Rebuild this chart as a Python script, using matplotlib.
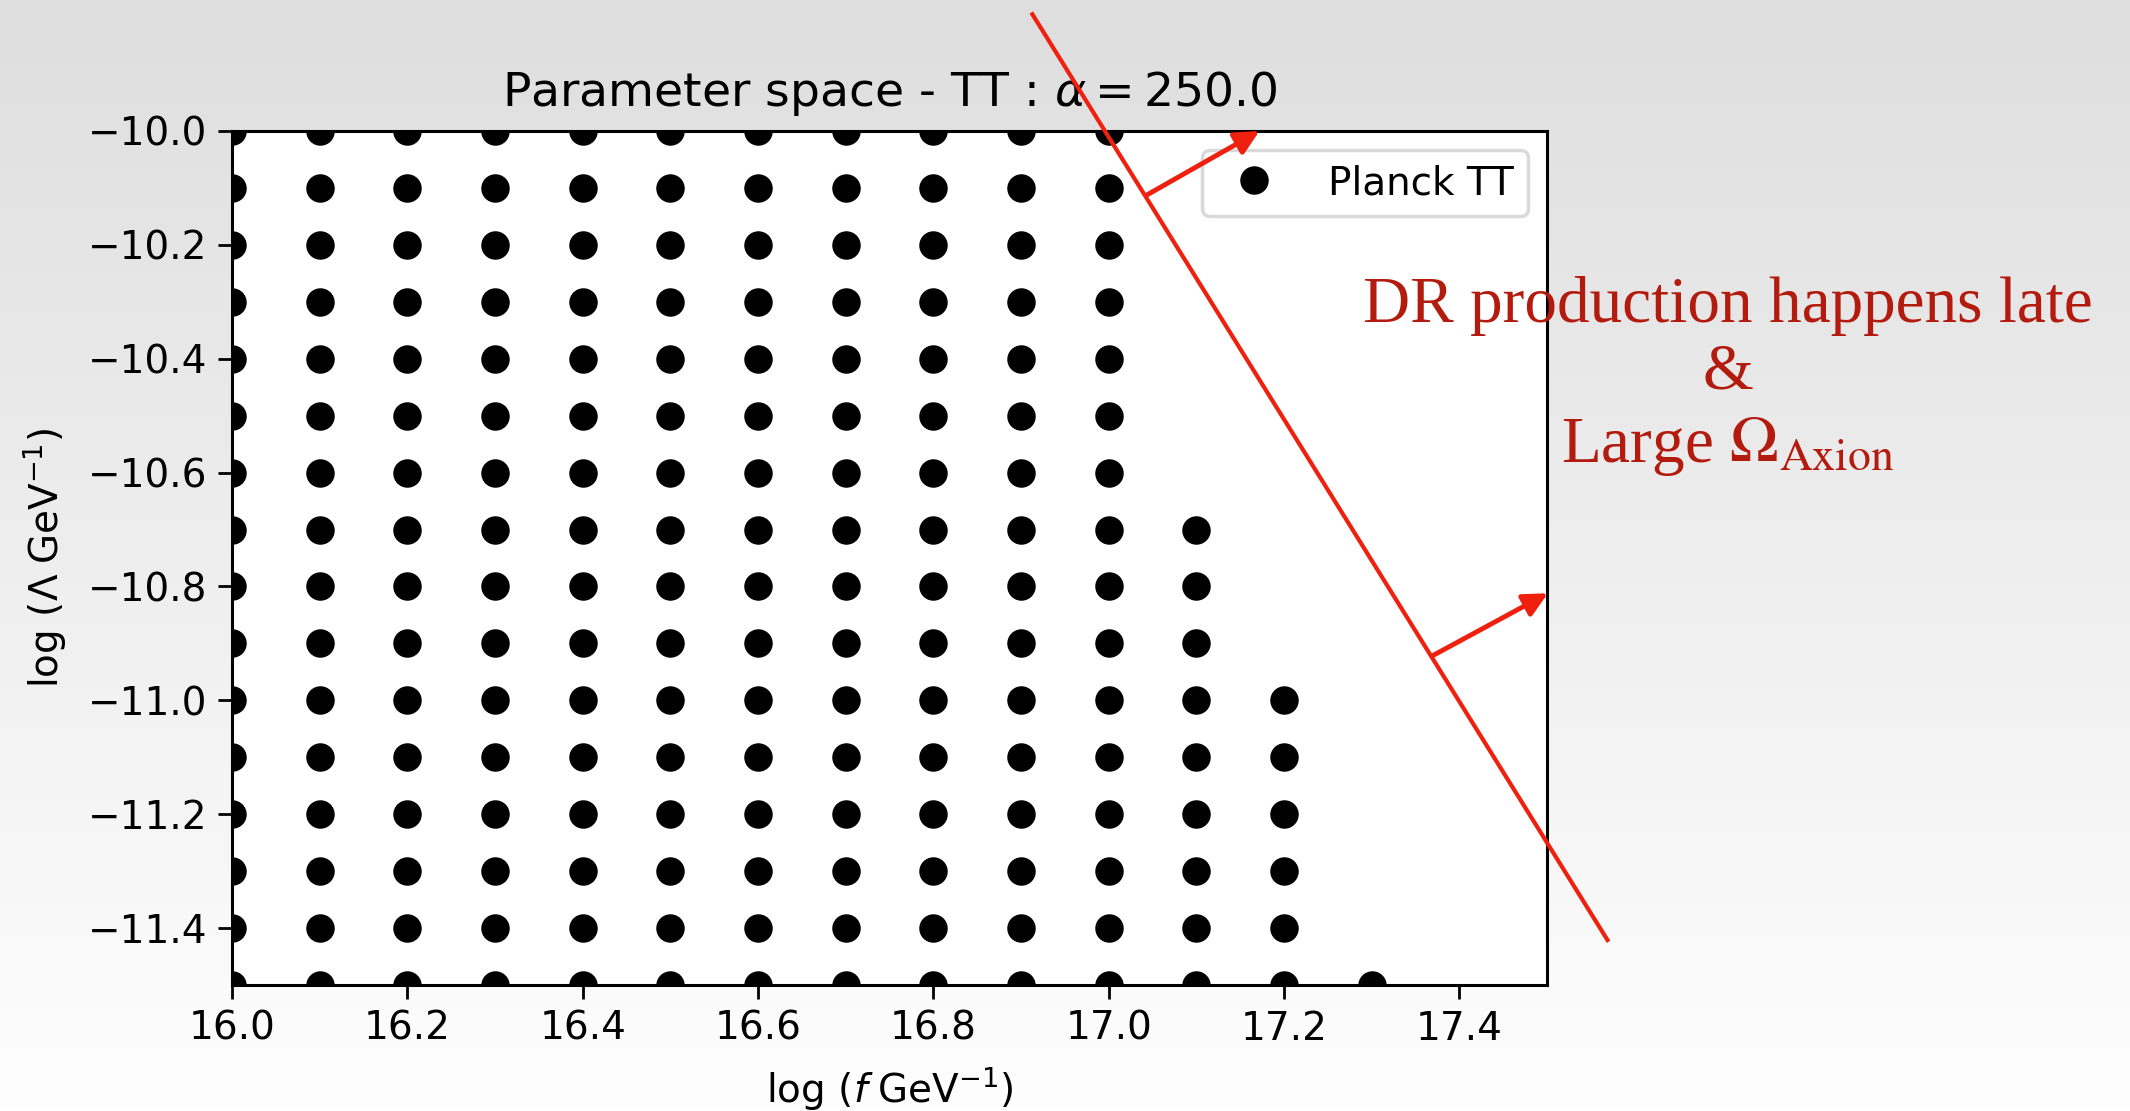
import numpy as np
import matplotlib
matplotlib.use("Agg")
import matplotlib.pyplot as plt
from matplotlib.colors import LinearSegmentedColormap

# Grid of (log f, log Lambda) points accepted by the Planck TT likelihood
f_columns = [16.0, 16.1, 16.2, 16.3, 16.4, 16.5, 16.6, 16.7, 16.8, 16.9, 17.0, 17.1, 17.2, 17.3]
# highest log Lambda reached in each column (all points down to -11.5 are present)
column_top = [-10.0, -10.0, -10.0, -10.0, -10.0, -10.0, -10.0, -10.0, -10.0, -10.0, -10.0, -10.7, -11.0, -11.5]
lambda_bottom = -11.5

xticks = [16.0, 16.2, 16.4, 16.6, 16.8, 17.0, 17.2, 17.4]
yticks = [-10.0, -10.2, -10.4, -10.6, -10.8, -11.0, -11.2, -11.4]

alpha_value = 250.0

xs, ys = [], []
for f, top in zip(f_columns, column_top):
    n = int(round((top - lambda_bottom) / 0.1)) + 1
    for k in range(n):
        xs.append(f)
        ys.append(round(top - 0.1 * k, 1))

fig = plt.figure(figsize=(21.3, 11.11), dpi=100)

# slide-style vertical gradient behind everything
bg = fig.add_axes([0, 0, 1, 1], zorder=-10)
grad = np.linspace(0, 1, 256).reshape(-1, 1)
cmap = LinearSegmentedColormap.from_list("bg", ["#dedede", "#fefefe"])
bg.imshow(grad, aspect="auto", cmap=cmap, extent=[0, 1, 0, 1], origin="upper")
bg.set_axis_off()

ax = fig.add_axes([232 / 2130, 1 - 985 / 1111, (1547 - 232) / 2130, (985 - 131) / 1111])
ax.set_facecolor("white")
ax.plot(xs, ys, "o", color="black", markersize=19.5, linestyle="none", label="Planck TT")
ax.set_xlim(16.0, 17.5)
ax.set_ylim(-11.5, -10.0)
ax.set_xticks(xticks)
ax.set_yticks(yticks)
ax.set_xticklabels([f"{t:.1f}" for t in xticks])
ax.set_yticklabels([f"{t:.1f}".replace("-", "\u2212") for t in yticks])
ax.tick_params(labelsize=28, length=10, width=2, pad=8)
for s in ax.spines.values():
    s.set_linewidth(2.2)

ax.set_title(r"Parameter space - TT : $\alpha = %.1f$" % alpha_value, fontsize=34, pad=18)
ax.set_xlabel(r"$\log\,(f\;\mathrm{GeV}^{-1})$", fontsize=28, labelpad=12)
ax.set_ylabel(r"$\log\,(\Lambda\;\mathrm{GeV}^{-1})$", fontsize=28, labelpad=14)

leg = ax.legend(loc="upper right", fontsize=28, frameon=True, fancybox=True,
                borderpad=0.35, handletextpad=0.9, borderaxespad=0.5)
leg.get_frame().set_edgecolor("#d0d0d0")
leg.get_frame().set_linewidth(2.5)

# boundary line and arrows pointing into the excluded region
red = "#f0200f"
ax.plot([16.913, 17.569], [-9.795, -11.421], color=red, lw=3, clip_on=False, zorder=5)
for (x0, y0), (x1, y1) in [((17.044, -10.112), (17.172, -10.0)),
                           ((17.369, -10.922), (17.501, -10.812))]:
    ax.annotate("", xy=(x1, y1), xytext=(x0, y0),
                arrowprops=dict(arrowstyle="-|>", color=red, lw=3.5, mutation_scale=36,
                                shrinkA=0, shrinkB=0),
                annotation_clip=False, zorder=6)

txt_color = "#b31b0e"
serif = "Liberation Serif"
fig.text(1728 / 2130, 1 - 322 / 1111, "DR production happens late", ha="center", va="baseline",
         fontsize=47, color=txt_color, family=serif)
fig.text(1728 / 2130, 1 - 388 / 1111, "&", ha="center", va="baseline",
         fontsize=47, color=txt_color, family=serif)
fig.text(1728 / 2130, 1 - 462 / 1111, r"Large $\Omega_{\mathrm{Axion}}$", ha="center", va="baseline",
         fontsize=47, color=txt_color, family=serif, math_fontfamily="stix")

fig.savefig("out.png", dpi=100)
